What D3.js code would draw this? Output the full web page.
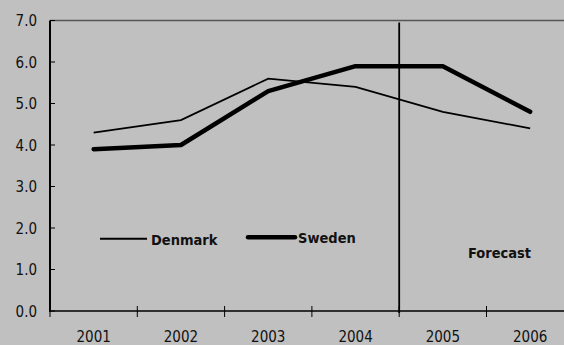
<!DOCTYPE html>
<html>
<head>
<meta charset="utf-8">
<script src="https://cdn.jsdelivr.net/npm/d3@7"></script>
<style>
  html, body { margin: 0; padding: 0; background: #c0c0c0; }
  svg { display: block; }
  text { font-family: "Liberation Sans Narrow", "DejaVu Sans Condensed", "Arial Narrow", sans-serif; fill: #111; }
</style>
</head>
<body>
<svg id="chart" width="564" height="345"></svg>
<script>
// Annual values per country, 2005–2006 are forecasts
const years = ["2001", "2002", "2003", "2004", "2005", "2006"];
const denmark = [4.3, 4.6, 5.6, 5.4, 4.8, 4.4];
const sweden = [3.9, 4.0, 5.3, 5.9, 5.9, 4.8];
const yTicks = [0, 1, 2, 3, 4, 5, 6, 7];
const forecastFrom = "2005";

(function draw() {
  const svg = d3.select("#chart");
  const W = 564, H = 345;
  const left = 50, plotTop = 20.5, bottom = 311;
  const step = 87.3;

  svg.append("rect").attr("width", W).attr("height", H).attr("fill", "#c0c0c0");

  const x = d3.scaleBand().domain(years).range([left, left + step * years.length]).paddingInner(0).paddingOuter(0);
  const y = d3.scaleLinear().domain([0, 7]).range([bottom, plotTop]);
  const cx = d => x(d) + x.bandwidth() / 2;

  // top frame line
  svg.append("line")
    .attr("x1", left).attr("x2", W).attr("y1", y(7)).attr("y2", y(7))
    .attr("stroke", "#555").attr("stroke-width", 1.5);

  // y axis
  const yAxis = d3.axisLeft(y).tickValues(yTicks).tickFormat(d3.format(".1f")).tickSize(0).tickPadding(13);
  const gy = svg.append("g").attr("transform", `translate(${left},0)`).call(yAxis);
  gy.select(".domain").remove();
  gy.attr("font-family", null).attr("font-size", null);
  gy.selectAll("text").attr("font-size", 15).attr("dy", "0.35em");
  svg.append("g").selectAll("line").data(yTicks).join("line")
    .attr("x1", left).attr("x2", left + 5).attr("y1", d => y(d)).attr("y2", d => y(d))
    .attr("stroke", "#000").attr("stroke-width", 1);
  svg.append("line")
    .attr("x1", left).attr("x2", left).attr("y1", y(7)).attr("y2", bottom + 1)
    .attr("stroke", "#000").attr("stroke-width", 2);

  // x axis: labels centred in bands, ticks on band boundaries
  const xAxis = d3.axisBottom(x).tickSize(0);
  const gx = svg.append("g").attr("transform", `translate(0,${bottom})`).call(xAxis);
  gx.select(".domain").remove();
  gx.attr("font-family", null).attr("font-size", null);
  gx.selectAll("text").attr("font-size", 15).attr("y", 31).attr("dy", null);
  svg.append("line")
    .attr("x1", left).attr("x2", W).attr("y1", bottom).attr("y2", bottom)
    .attr("stroke", "#000").attr("stroke-width", 1.5);
  svg.append("g").selectAll("line").data(years).join("line")
    .attr("x1", d => x(d)).attr("x2", d => x(d))
    .attr("y1", (d, i) => i === 0 ? bottom : bottom - 5).attr("y2", bottom + 6)
    .attr("stroke", "#000").attr("stroke-width", 1);

  // forecast divider
  svg.append("line")
    .attr("x1", x(forecastFrom)).attr("x2", x(forecastFrom))
    .attr("y1", 22.5).attr("y2", bottom + 2)
    .attr("stroke", "#000").attr("stroke-width", 1.8);
  svg.append("text").attr("x", 468).attr("y", 258).attr("font-size", 14.5).attr("font-weight", "bold").text("Forecast");

  // series lines
  const line = d3.line().x((d, i) => cx(years[i])).y(d => y(d));
  svg.append("path").datum(denmark).attr("d", line)
    .attr("fill", "none").attr("stroke", "#000").attr("stroke-width", 1.8);
  svg.append("path").datum(sweden).attr("d", line)
    .attr("fill", "none").attr("stroke", "#000").attr("stroke-width", 4.5)
    .attr("stroke-linecap", "round").attr("stroke-linejoin", "round");

  // legend
  const legend = [
    { name: "Denmark", x0: 100, yy: 238.7, w: 2, tx: 151 },
    { name: "Sweden", x0: 248, yy: 237.3, w: 4.5, tx: 298 }
  ];
  const lg = svg.append("g");
  lg.selectAll("line").data(legend).join("line")
    .attr("x1", d => d.x0).attr("x2", d => d.x0 + 47)
    .attr("y1", d => d.yy).attr("y2", d => d.yy)
    .attr("stroke", "#000").attr("stroke-width", d => d.w).attr("stroke-linecap", d => d.w > 3 ? "round" : "butt");
  lg.selectAll("text").data(legend).join("text")
    .attr("x", d => d.tx).attr("y", d => d.yy + 6)
    .attr("font-size", 14.5).attr("font-weight", "bold").text(d => d.name);
})();
</script>
</body>
</html>
